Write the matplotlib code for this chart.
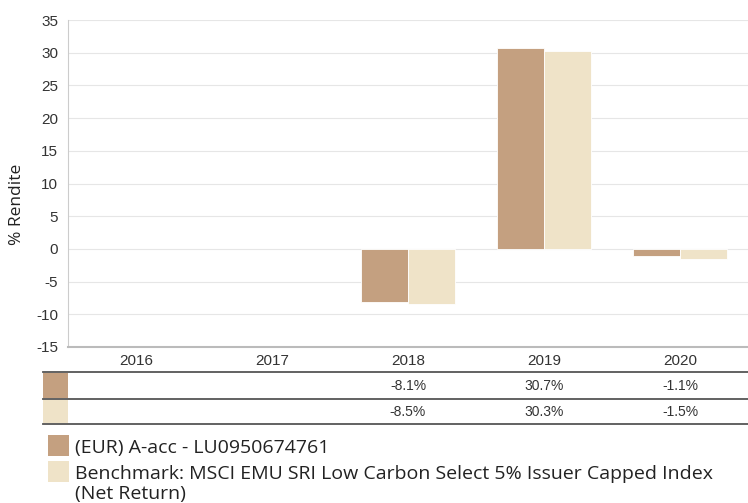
import matplotlib.pyplot as plt
import matplotlib.transforms as mtransforms
import numpy as np
from matplotlib.patches import Rectangle
from matplotlib.lines import Line2D

years = ["2016", "2017", "2018", "2019", "2020"]
fund = [np.nan, np.nan, -8.1, 30.7, -1.1]
bench = [np.nan, np.nan, -8.5, 30.3, -1.5]
fund_label = ["(EUR) A-acc - LU0950674761"]
bench_label = ["Benchmark: MSCI EMU SRI Low Carbon Select 5% Issuer Capped Index", "(Net Return)"]
yticks = list(range(-15, 40, 5))

fund_color = "#C4A080"
bench_color = "#EFE3C8"

plt.rcParams["font.family"] = ["Liberation Sans", "DejaVu Sans"]

fig = plt.figure(figsize=(7.48, 5.03), dpi=100)
W, H = 748, 503


def fx(px):
    return px / W


def fy(py):
    return 1 - py / H


ax = fig.add_axes([fx(68), fy(347), fx(748) - fx(68), fy(20) - fy(347)])
x = np.arange(len(years))
w = 0.345
ax.bar(x - w / 2, fund, w, color=fund_color, edgecolor="white", linewidth=0.6, zorder=3)
ax.bar(x + w / 2, bench, w, color=bench_color, edgecolor="white", linewidth=0.6, zorder=3)

ax.set_xlim(-0.5, len(years) - 0.5)
ax.set_ylim(-15, 35)
ax.set_yticks(yticks)
ax.set_yticklabels([str(t) for t in yticks], fontsize=11, color="#333333")
ax.set_xticks(x)
ax.set_xticklabels(years, fontsize=11, color="#333333")
ax.tick_params(length=0, pad=7)
ax.tick_params(axis="x", pad=5)
ax.grid(axis="y", color="#E6E6E6", linewidth=0.8, zorder=0)
for side in ["top", "right"]:
    ax.spines[side].set_visible(False)
ax.spines["left"].set_color("#CCCCCC")
ax.spines["bottom"].set_color("#BBBBBB")
ax.spines["bottom"].set_linewidth(1.5)
ax.set_ylabel("% Rendite", fontsize=12.5, family=["Open Sans", "DejaVu Sans"], color="#222222")
ax_w = fx(748) - fx(68)
ax.yaxis.set_label_coords(-fx(68 - 25) / ax_w, (347 - 204) / 327)

# table under the chart
row_lines = [372, 399, 424]
for py in row_lines:
    fig.add_artist(Line2D([fx(43), 1], [fy(py), fy(py)], color="#555555", linewidth=1.3))
rows = [(fund, fund_color), (bench, bench_color)]
trans = mtransforms.blended_transform_factory(ax.transData, fig.transFigure)
for i, (vals, col) in enumerate(rows):
    top, bot = row_lines[i], row_lines[i + 1]
    fig.add_artist(Rectangle((fx(43), fy(bot - 1)), fx(25), fy(top + 1) - fy(bot - 1),
                             color=col, linewidth=0))
    for xi, v in zip(x, vals):
        if not np.isnan(v):
            fig.text(xi, fy((top + bot) / 2), f"{v:.1f}%", transform=trans,
                     ha="center", va="center", fontsize=10, color="#333333")

# legend
leg_font = ["Open Sans", "DejaVu Sans"]
for py, col, lines in [(435, fund_color, fund_label), (461, bench_color, bench_label)]:
    fig.add_artist(Rectangle((fx(48), fy(py + 21)), fx(21), fy(py) - fy(py + 21),
                             color=col, linewidth=0))
    for k, line in enumerate(lines):
        fig.text(fx(75), fy(py + 18 + 20 * k), line, ha="left", va="baseline",
                 fontsize=14, family=leg_font, color="#222222")

fig.savefig("out.png", dpi=100)
